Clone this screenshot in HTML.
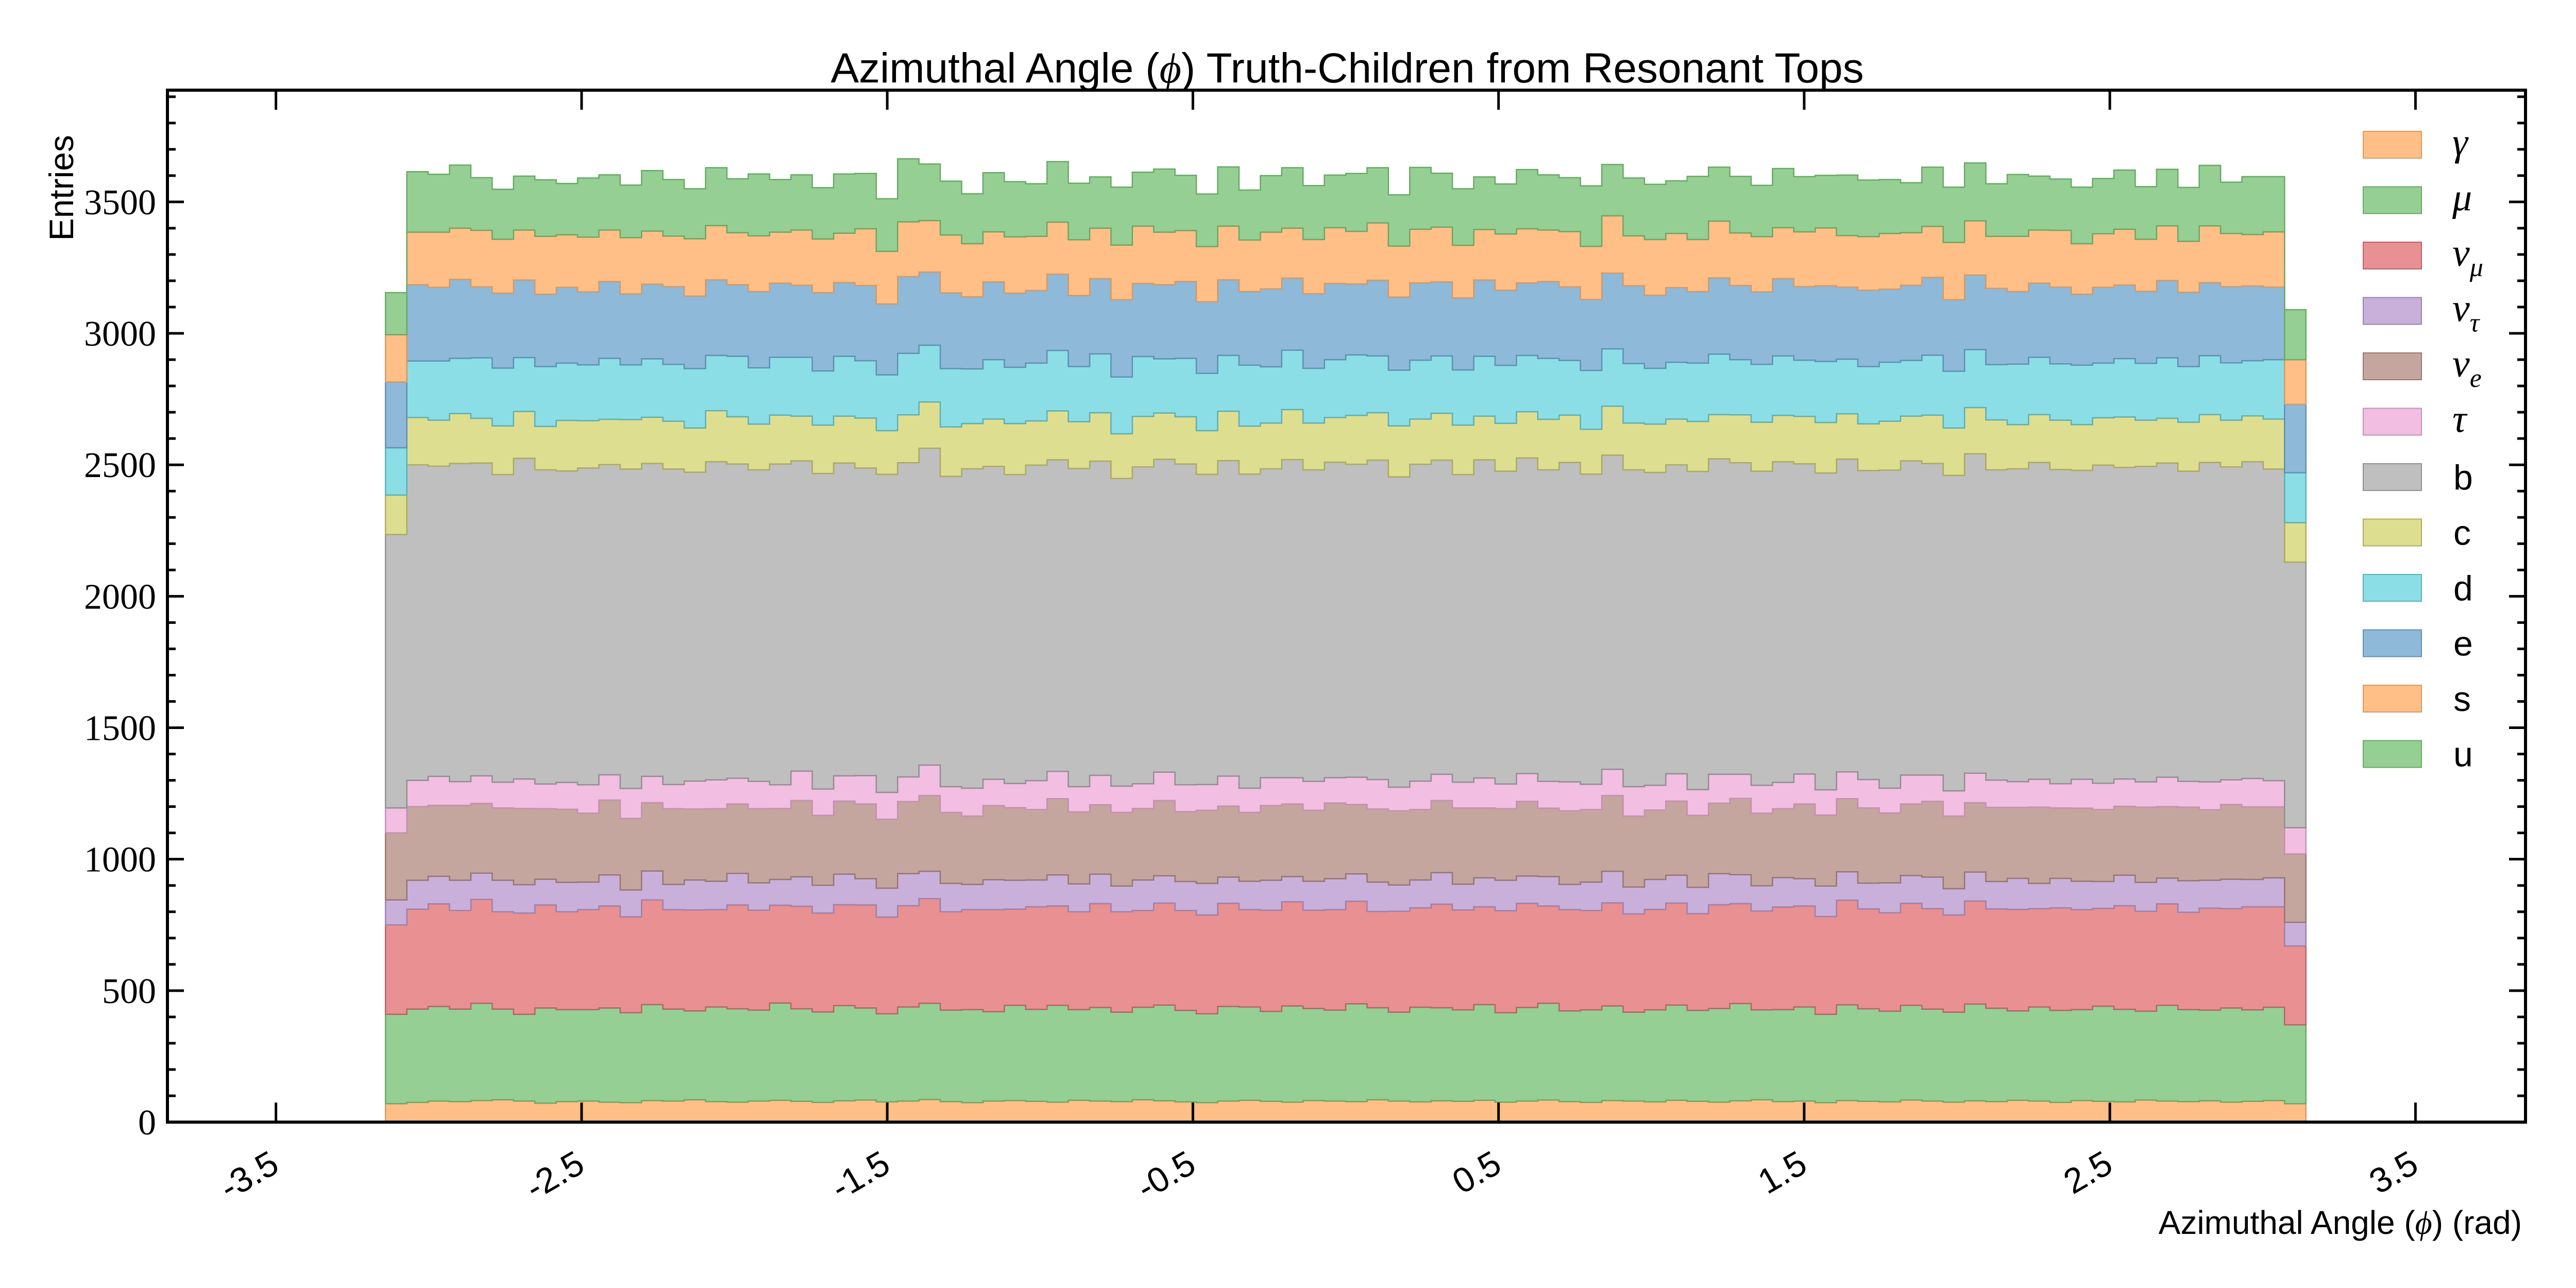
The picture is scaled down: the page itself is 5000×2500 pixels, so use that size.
<!DOCTYPE html>
<html><head><meta charset="utf-8">
<style>
html,body{margin:0;padding:0;background:#fff;}
svg{display:block;}
.sans{font-family:"Liberation Sans",sans-serif;}
.serif{font-family:"Liberation Serif",serif;}
</style></head>
<body>
<svg id="chart" width="5000" height="2500" viewBox="0 0 5000 2500" xmlns="http://www.w3.org/2000/svg">
<rect width="5000" height="2500" fill="#fff"/>
<g id="bars"></g>
<g id="axes"></g>
<text class="sans" x="2615" y="160" font-size="82" text-anchor="middle">Azimuthal Angle (<tspan class="serif" font-style="italic">ϕ</tspan>) Truth-Children from Resonant Tops</text>
<text class="sans" font-size="66" text-anchor="end" transform="translate(142,262) rotate(-90)">Entries</text>
<text class="sans" font-size="64" x="4895" y="2395" text-anchor="end">Azimuthal Angle (<tspan class="serif" font-style="italic">ϕ</tspan>) (rad)</text>
<g id="legend"></g>
</svg>
<script>
const seriesNames = ["γ","μ","ν_μ","ν_τ","ν_e","τ","b","c","d","e","s","u"];
const gammaVals = [70,75,80,78,82,85,80,72,78,80,76,74,82,80,85,78,76,80,83,79,75,81,84,77,80,86,78,74,80,82,79,76,83,80,78,85,81,77,74,80,83,79,76,82,80,78,85,80,77,81,79,83,76,80,84,78,75,82,80,77,83,79,76,81,85,78,80,74,82,79,77,84,80,76,81,78,83,80,75,82,79,77,84,80,78,81,76,79,82,70];
const muVals = [340,355,360,352,370,345,330,362,350,348,358,342,365,350,338,360,355,346,370,352,344,362,350,335,358,366,348,354,340,362,350,368,345,356,340,352,364,348,338,360,355,342,366,350,346,372,350,338,360,354,348,364,340,356,368,345,352,360,338,350,362,346,356,370,342,350,358,336,364,352,345,360,350,342,368,355,340,358,350,346,362,352,338,364,350,345,358,348,355,300];
const numuVals = [340,380,390,375,395,370,385,392,372,380,388,365,398,378,384,370,395,380,372,390,376,384,392,368,385,398,374,380,388,366,390,378,372,395,382,368,388,380,376,392,370,385,396,374,382,390,366,384,378,394,380,372,388,396,370,385,378,392,374,382,388,368,395,380,376,390,384,372,398,380,374,388,382,370,392,378,386,374,390,380,372,394,380,386,370,388,378,392,382,300];
const nutauVals = [95,110,105,115,100,120,108,98,112,105,118,102,110,96,114,108,120,104,98,112,106,116,100,110,122,104,108,96,114,110,102,118,106,112,98,116,104,110,120,100,108,114,96,110,118,104,112,100,106,120,98,110,116,104,112,96,108,120,102,114,106,100,118,110,96,112,104,116,108,98,114,106,120,100,110,104,118,96,112,108,102,116,110,98,120,106,112,104,110,90];
const nueVals = [255,280,270,285,265,275,290,268,278,262,285,272,260,288,270,276,264,282,270,290,266,278,284,262,274,288,270,260,282,276,268,290,274,264,280,272,286,266,278,270,262,284,276,270,288,264,278,282,268,274,290,266,272,284,260,280,276,288,270,264,282,274,268,290,276,262,284,270,278,286,266,272,288,276,264,282,270,290,268,278,274,262,286,272,280,268,284,276,270,260];
const tauVals = [95,100,110,90,105,98,112,94,102,108,96,114,100,92,106,110,98,104,90,112,100,96,108,102,94,116,98,106,100,92,110,104,96,112,100,94,108,102,98,114,92,106,100,110,96,104,112,90,108,100,98,114,94,106,102,110,96,100,112,94,104,98,110,92,106,100,114,96,102,108,94,110,100,96,112,104,98,106,92,110,100,104,96,112,98,106,94,108,100,100];
const bVals = [1040,1200,1180,1210,1190,1170,1220,1195,1185,1205,1180,1215,1190,1200,1175,1210,1195,1185,1220,1180,1200,1190,1170,1210,1195,1205,1180,1215,1190,1175,1200,1185,1210,1195,1170,1205,1190,1220,1180,1200,1195,1175,1210,1185,1200,1190,1215,1180,1205,1195,1170,1210,1190,1200,1185,1215,1180,1195,1205,1190,1175,1210,1200,1185,1195,1220,1180,1205,1190,1175,1210,1195,1185,1200,1215,1180,1190,1205,1195,1175,1210,1185,1200,1195,1180,1215,1190,1205,1185,1010];
const cVals = [150,180,175,190,170,185,178,165,192,180,172,188,176,182,168,194,180,174,186,170,184,178,190,166,182,176,188,172,180,194,168,186,178,184,170,192,176,180,166,188,182,174,190,178,170,186,180,194,172,178,188,166,182,176,192,180,170,186,178,184,174,190,168,182,186,176,180,192,172,178,186,170,184,180,176,190,168,182,188,174,180,192,176,170,186,182,178,174,190,150];
const dVals = [180,215,225,210,230,220,205,228,218,212,232,208,222,216,226,210,230,214,220,224,206,228,218,212,234,216,222,208,226,214,220,230,210,224,216,228,206,222,218,212,232,214,226,208,220,230,216,212,224,218,210,228,220,214,232,208,224,218,226,212,216,222,230,210,220,226,214,232,208,218,224,212,228,216,220,210,230,218,214,226,208,222,216,230,212,224,218,210,226,190];
const eVals = [250,290,280,300,270,285,295,275,288,278,292,270,284,296,276,288,272,290,282,274,298,280,286,270,292,278,288,274,296,282,276,290,270,286,294,278,282,292,272,288,280,296,274,284,290,270,288,278,294,282,274,290,286,276,292,280,270,288,296,278,284,272,290,282,276,294,280,288,274,290,278,286,296,272,284,290,276,282,292,270,288,280,274,294,282,278,290,284,276,260];
const sVals = [180,200,210,195,215,205,190,220,200,208,196,214,202,192,218,206,198,212,194,210,204,188,216,200,208,196,220,202,190,214,206,198,212,192,208,218,200,194,210,204,196,216,190,206,212,200,218,194,204,208,200,192,214,206,196,210,202,218,190,212,206,198,216,200,210,194,208,220,196,204,212,200,194,218,206,198,210,202,216,192,204,212,198,208,194,216,202,196,210,170];
const uVals = [160,230,220,240,200,190,205,215,195,225,210,200,230,215,190,220,205,235,200,210,195,225,210,200,240,215,205,190,225,210,200,230,215,195,220,205,240,210,200,225,190,215,230,205,200,220,210,195,235,205,215,200,190,225,210,205,230,195,220,210,200,240,205,215,195,225,210,200,230,215,205,190,225,210,220,200,235,205,195,215,210,225,200,215,205,230,195,220,210,190];
const yTickLabels = ["0","500","1000","1500","2000","2500","3000","3500"];
const xTickLabels = ["-3.5","-2.5","-1.5","-0.5","0.5","1.5","2.5","3.5"];

const NS="http://www.w3.org/2000/svg";
const L=325,R=4902,T=175,B=2178;
const xmin=-3.855,xmax=3.86,ymin=0,ymax=3925;
function sx(v){return L+(v-xmin)/(xmax-xmin)*(R-L);}
function sy(v){return B-(v-ymin)/(ymax-ymin)*(B-T);}
function mk(tag,attrs,parent){const e=document.createElementNS(NS,tag);for(const k in attrs)e.setAttribute(k,attrs[k]);parent.appendChild(e);return e;}

const allSeries=[gammaVals,muVals,numuVals,nutauVals,nueVals,tauVals,bVals,cVals,dVals,eVals,sVals,uVals];
const fills=["#ffbf86","#96cf93","#e99093","#c9b0db","#c5a69f","#f2bee1","#bfbfbf","#dede91","#8bdee6","#8eb9d9","#ffbf86","#96cf93"];
const strokes=["#d89a62","#6aa867","#b96367","#9b83ad","#97776f","#c690b4","#909090","#acac5c","#5db0b8","#6290b2","#d89a62","#6aa867"];
const slugs=["gamma","mu","nu-mu","nu-tau","nu-e","tau","b","c","d","e","s","u"];
const nb=gammaVals.length;
const lo=-Math.PI,hi=Math.PI,bw=(hi-lo)/nb;
const barsG=document.getElementById('bars');
let base=new Array(nb).fill(0);
allSeries.forEach((vals,si)=>{
  const top=base.map((b,i)=>b+vals[i]);
  let d="";
  for(let i=0;i<nb;i++){const x0=sx(lo+i*bw),x1=sx(lo+(i+1)*bw),y=sy(top[i]);d+=(i===0?"M"+x0+","+sy(base[0])+" L"+x0+","+y:" L"+x0+","+y)+" L"+x1+","+y;}
  for(let i=nb-1;i>=0;i--){const x0=sx(lo+i*bw),x1=sx(lo+(i+1)*bw),y=sy(base[i]);d+=" L"+x1+","+y+" L"+x0+","+y;}
  d+=" Z";
  const p=mk('path',{d:d,fill:fills[si],stroke:strokes[si],'stroke-width':2.5,'stroke-linejoin':'miter'},barsG);
  
  
  base=top;
});

const ax=document.getElementById('axes');
const frame=mk('rect',{x:L,y:T,width:R-L,height:B-T,fill:'none',stroke:'#000','stroke-width':6},ax);


for(let v=0;v<=3900;v+=100){
  const y=sy(v),len=(v%500===0)?32:16;
  mk('line',{x1:L,x2:L+len,y1:y,y2:y,stroke:'#000','stroke-width':5},ax);
  mk('line',{x1:R,x2:R-len,y1:y,y2:y,stroke:'#000','stroke-width':5},ax);
}
yTickLabels.forEach(lbl=>{
  const t=mk('text',{x:L-22,y:sy(+lbl)+24,'font-size':70,'text-anchor':'end','class':'serif'},ax);
  t.textContent=lbl;
  
  
});
xTickLabels.forEach(lbl=>{
  const x=sx(+lbl);
  mk('line',{x1:x,x2:x,y1:B,y2:B-38,stroke:'#000','stroke-width':5},ax);
  mk('line',{x1:x,x2:x,y1:T,y2:T+38,stroke:'#000','stroke-width':5},ax);
  const t=mk('text',{'font-size':68,'text-anchor':'end','class':'sans',transform:'translate('+(x+10)+',2272) rotate(-30)'},ax);
  t.textContent=lbl;
  
  
});

const lg=document.getElementById('legend');
const legendOrder=[0,1,2,3,4,5,6,7,8,9,10,11];
const mathLabels={"γ":["γ",""],"μ":["μ",""],"ν_μ":["ν","μ"],"ν_τ":["ν","τ"],"ν_e":["ν","e"],"τ":["τ",""]};
legendOrder.forEach((si,k)=>{
  const cy=281+k*107.5;
  const g=mk('g',{},lg);
  
  
  mk('rect',{x:4587,y:cy-26,width:113,height:52,fill:fills[si],stroke:strokes[si],'stroke-width':2},g);
  const name=seriesNames[si];
  if(mathLabels[name]){
    const t=mk('text',{x:4760,y:cy+20,'font-size':76,'class':'serif','font-style':'italic'},g);
    t.textContent=mathLabels[name][0];
    if(mathLabels[name][1]){const s=mk('tspan',{'font-size':52,dy:20},t);s.textContent=mathLabels[name][1];}
  } else {
    const t=mk('text',{x:4762,y:cy+24,'font-size':68,'class':'sans'},g);
    t.textContent=name;
  }
});
</script>
</body></html>
